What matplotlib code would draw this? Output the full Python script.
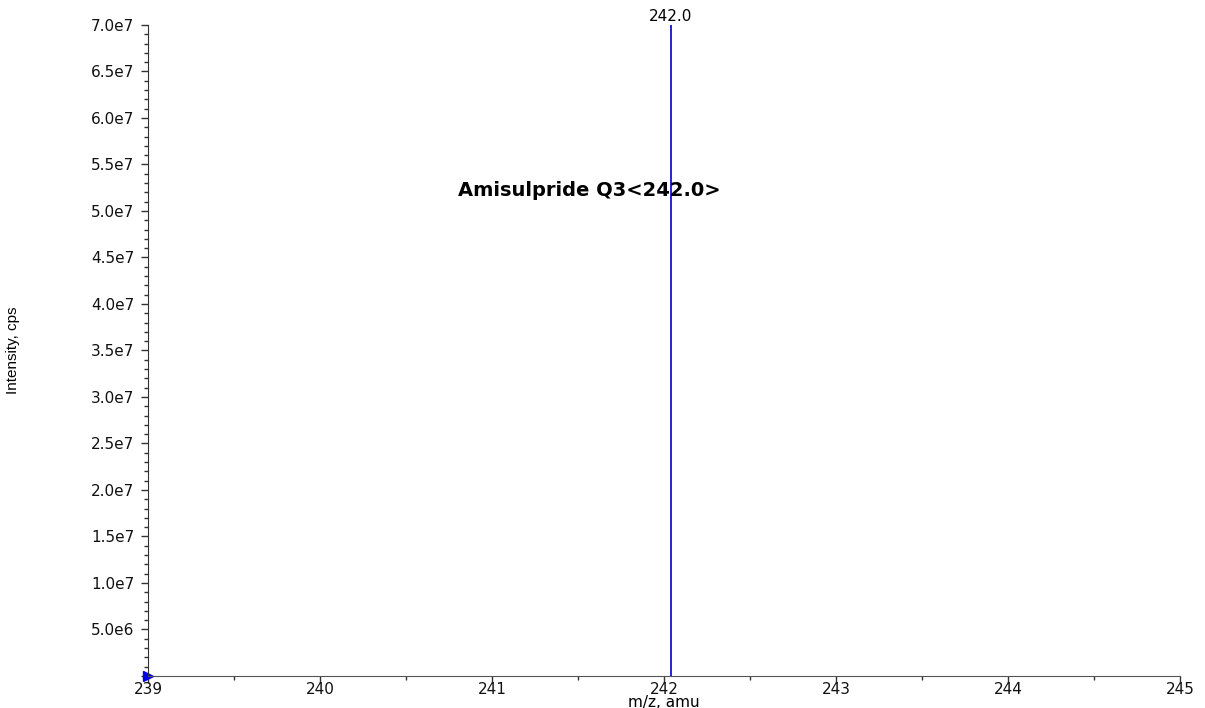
import matplotlib
matplotlib.use("Agg")
import matplotlib.pyplot as plt
from matplotlib.ticker import MultipleLocator, FuncFormatter

plt.rcParams['font.family'] = ['DejaVu Sans']

# Spectrum data
mz = [242.04]
intensity = [7.0e7]
peak_labels = ["242.0"]
title_text = "Amisulpride Q3<242.0>"

fig = plt.figure(figsize=(12.05, 7.08), dpi=100)
ax = fig.add_axes([0.1228, 0.0452, 0.8565, 0.9195])

# Stick spectrum
ax.vlines(mz, 0, intensity, color="#0000cc", linewidth=1.2)
for x, y, lab in zip(mz, intensity, peak_labels):
    ax.annotate(lab, (x, y), xytext=(0, 1), textcoords="offset points",
                ha="center", va="bottom", fontsize=11, annotation_clip=False)

# small marker at origin
ax.plot([239], [0], marker=">", color="#0000ee", markersize=7, clip_on=False)

ax.text(0.4277, 0.745, title_text, transform=ax.transAxes, ha="center",
        va="center", fontsize=14, fontweight="bold")

ax.set_xlim(239, 245)
ax.set_ylim(0, 7.0e7)
ax.xaxis.set_major_locator(MultipleLocator(1))
ax.xaxis.set_minor_locator(MultipleLocator(0.5))
ax.yaxis.set_major_locator(MultipleLocator(5e6))
ax.yaxis.set_minor_locator(MultipleLocator(1e6))

def sci(v, pos):
    if v <= 0:
        return ""
    e = len(str(int(round(v)))) - 1
    return "%.1fe%d" % (v / 10 ** e, e)

ax.yaxis.set_major_formatter(FuncFormatter(sci))
ax.xaxis.set_major_formatter(FuncFormatter(lambda v, p: "%d" % round(v)))

for s in ["top", "right"]:
    ax.spines[s].set_visible(False)
ax.spines["left"].set_color("#333333")
ax.spines["bottom"].set_color("#555555")
ax.tick_params(axis="both", which="major", labelsize=11, length=5, width=1, colors="#333333", labelcolor="#111111")
ax.tick_params(axis="both", which="minor", length=3, width=1, colors="#333333")
ax.tick_params(axis="x", which="major", pad=-1)
ax.tick_params(axis="y", which="major", pad=5)

ax.set_xlabel("m/z, amu", fontsize=11)
ax.xaxis.set_label_coords(0.5, -0.029)
ax.set_ylabel("Intensity, cps", fontsize=11,
              family=["Liberation Sans Narrow", "Liberation Sans"])
ax.yaxis.set_label_coords(-0.124, 0.5)

plt.savefig("out.png", dpi=100)
